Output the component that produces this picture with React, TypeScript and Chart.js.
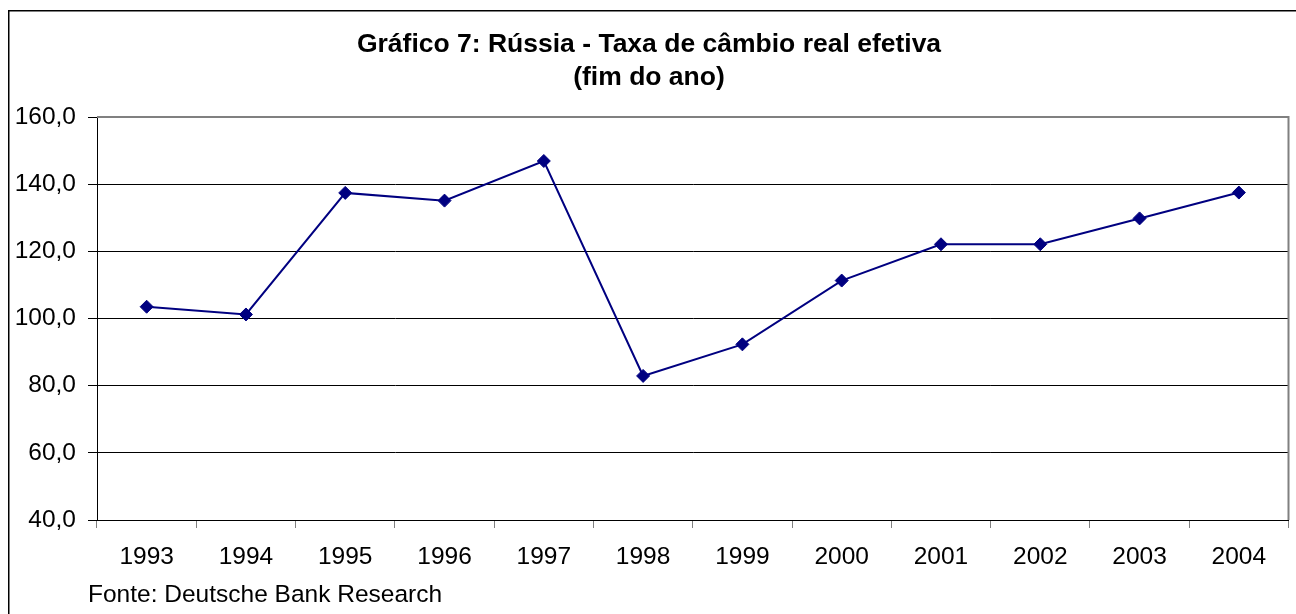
import React, { useEffect, useRef } from "react";
import { Chart, registerables } from "chart.js";

Chart.register(...registerables);

const years = ["1993", "1994", "1995", "1996", "1997", "1998", "1999", "2000", "2001", "2002", "2003", "2004"];
const realEffectiveRate = [103.5, 101.2, 137.4, 135.1, 146.9, 82.9, 92.3, 111.3, 122.1, 122.1, 129.8, 137.5];
const yMin = 40;
const yMax = 160;
const yStep = 20;
const titleLines = ["Gráfico 7: Rússia - Taxa de câmbio real efetiva", "(fim do ano)"];
const sourceNote = "Fonte: Deutsche Bank Research";

const FONT = "'Liberation Sans', Arial, sans-serif";

const decorPlugin = {
  id: "decor",
  afterDraw(chart: any) {
    const { ctx, chartArea } = chart;
    ctx.save();
    // outer frame (left and top visible)
    ctx.strokeStyle = "#000000";
    ctx.lineWidth = 1.5;
    ctx.beginPath();
    ctx.moveTo(8.75, 614);
    ctx.lineTo(8.75, 10.75);
    ctx.lineTo(1296, 10.75);
    ctx.stroke();
    // plot border top & right in gray
    ctx.strokeStyle = "#808080";
    ctx.lineWidth = 2;
    ctx.beginPath();
    ctx.moveTo(chartArea.left, chartArea.top);
    ctx.lineTo(chartArea.right, chartArea.top);
    ctx.lineTo(chartArea.right, chartArea.bottom);
    ctx.stroke();
    // title
    ctx.fillStyle = "#000000";
    ctx.textAlign = "center";
    ctx.textBaseline = "middle";
    ctx.font = `bold 26.5px ${FONT}`;
    ctx.fillText(titleLines[0], 649, 45);
    ctx.fillText(titleLines[1], 649, 78);
    // source
    ctx.textAlign = "left";
    ctx.font = `24.5px ${FONT}`;
    ctx.fillText(sourceNote, 88, 595);
    ctx.restore();
  },
};

export default function App() {
  const canvasRef = useRef<HTMLCanvasElement | null>(null);

  useEffect(() => {
    if (!canvasRef.current) return;
    const chart = new Chart(canvasRef.current, {
      type: "line",
      data: {
        labels: years,
        datasets: [
          {
            label: "Taxa de câmbio real efetiva",
            data: realEffectiveRate,
            borderColor: "#000080",
            backgroundColor: "#000080",
            borderWidth: 2,
            pointStyle: "rectRot",
            pointRadius: 6.5,
            pointBorderWidth: 1,
            pointBackgroundColor: "#000080",
            pointBorderColor: "#000080",
            tension: 0,
            clip: false,
          },
        ],
      },
      options: {
        animation: false,
        responsive: false,
        maintainAspectRatio: false,
        layout: { padding: { top: 117, right: 7, left: 0, bottom: 0 } },
        plugins: {
          legend: { display: false },
          title: { display: false },
          tooltip: { enabled: false },
        },
        scales: {
          x: {
            type: "category",
            offset: true,
            afterFit: (scale: any) => {
              scale.height = 94;
            },
            grid: {
              offset: true,
              drawOnChartArea: false,
              drawTicks: true,
              tickLength: 8,
              tickColor: "#808080",
              tickWidth: 1,
            },
            border: { color: "#000000", width: 1 },
            ticks: {
              color: "#000000",
              font: { family: FONT, size: 24.5 },
              padding: 15,
              maxRotation: 0,
              autoSkip: false,
            },
          },
          y: {
            min: yMin,
            max: yMax,
            afterFit: (scale: any) => {
              scale.width = 97;
            },
            grid: {
              color: (c: any) => (c.tick && c.tick.value === yMax ? "rgba(0,0,0,0)" : "#000000"),
              lineWidth: 1,
              drawTicks: true,
              tickLength: 9,
              tickColor: "#000000",
            },
            border: { color: "#000000", width: 1 },
            ticks: {
              stepSize: yStep,
              color: "#000000",
              font: { family: FONT, size: 24.5 },
              padding: 12,
              callback: (v: any) => Number(v).toFixed(1).replace(".", ","),
            },
          },
        },
      },
      plugins: [decorPlugin],
    });
    return () => chart.destroy();
  }, []);

  return (
    <div style={{ position: "absolute", left: 0, top: 0, width: 1296, height: 614, background: "#ffffff" }}>
      <canvas ref={canvasRef} width={1296} height={614} style={{ display: "block", width: 1296, height: 614 }} />
    </div>
  );
}
